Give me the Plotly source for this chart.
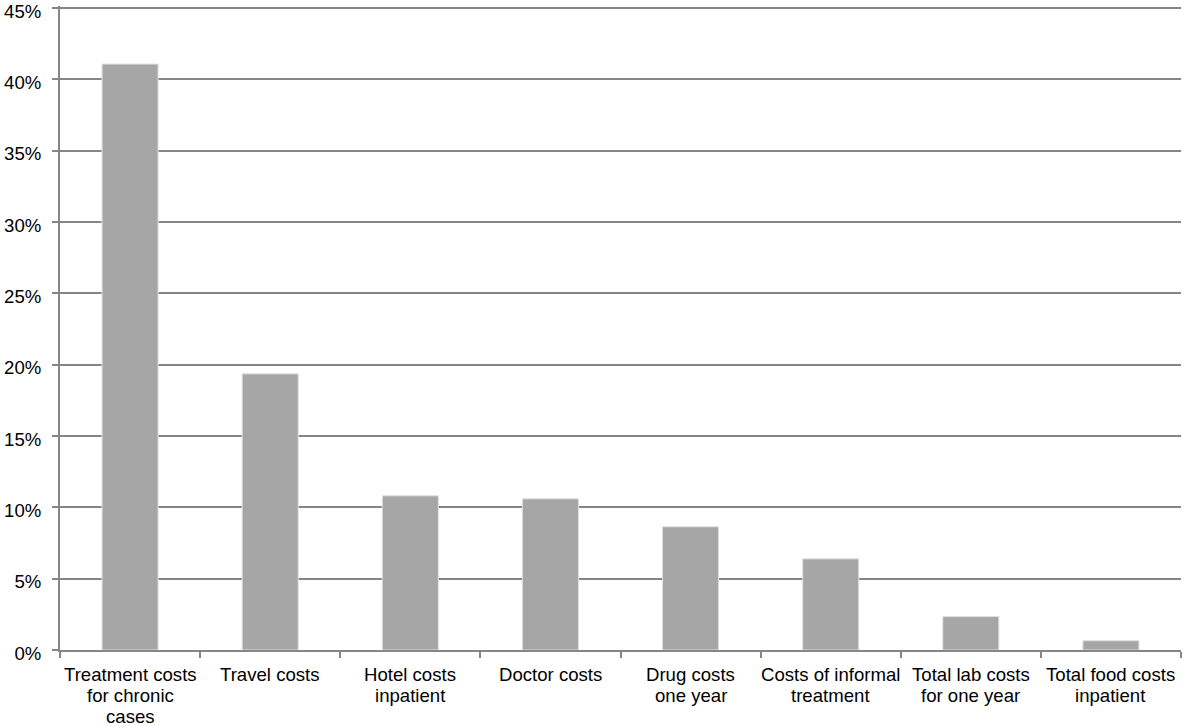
import plotly.graph_objects as go

categories = [
    "Treatment costs<br>for chronic<br>cases",
    "Travel costs",
    "Hotel costs<br>inpatient",
    "Doctor costs",
    "Drug costs<br>one year",
    "Costs of informal<br>treatment",
    "Total lab costs<br>for one year",
    "Total food costs<br>inpatient",
]
values = [41.08, 19.36, 10.81, 10.60, 8.64, 6.39, 2.34, 0.65]
tick_vals = [0, 5, 10, 15, 20, 25, 30, 35, 40, 45]
tick_text = [f"{v}%" for v in tick_vals]

FONT = "Liberation Sans, Arial, sans-serif"
LABEL_SIZE = 18.6

fig = go.Figure(
    go.Bar(
        x=categories,
        y=values,
        marker=dict(color="#A6A6A6", line=dict(color="#E0E0E0", width=1)),
        hoverinfo="y",
    )
)

# Category labels: one annotation per text line, anchored to the category axis
annotations = []
for cat in categories:
    for i, line in enumerate(cat.split("<br>")):
        annotations.append(
            dict(
                x=cat,
                y=0,
                xref="x",
                yref="y",
                text=line,
                showarrow=False,
                xanchor="center",
                yanchor="middle",
                yshift=-(24 + 21 * i),
                font=dict(family=FONT, size=LABEL_SIZE, color="black"),
            )
        )

fig.update_layout(
    width=1186,
    height=726,
    margin=dict(l=60, r=5, t=6, b=76, autoexpand=False),
    paper_bgcolor="white",
    plot_bgcolor="white",
    bargap=0.6,
    showlegend=False,
    font=dict(family=FONT, size=LABEL_SIZE, color="black"),
    annotations=annotations,
)

fig.update_xaxes(
    type="category",
    automargin=False,
    showline=True,
    linecolor="#868686",
    linewidth=2,
    ticks="outside",
    tickson="boundaries",
    ticklen=6,
    tickwidth=2,
    tickcolor="#868686",
    showgrid=False,
    showticklabels=False,
)

fig.update_yaxes(
    range=[0, 45.15],
    automargin=False,
    tickvals=tick_vals,
    ticktext=tick_text,
    ticklabeloverflow="allow",
    ticklabelstandoff=7,
    ticklabelshift=3,
    showline=True,
    linecolor="#868686",
    linewidth=2,
    ticks="outside",
    ticklen=6,
    tickwidth=2,
    tickcolor="#868686",
    showgrid=True,
    gridcolor="#868686",
    gridwidth=2,
    zeroline=False,
)

fig.write_html(
    "out.html",
    config={"displayModeBar": False},
    post_script="document.body.style.margin='0';document.body.style.overflow='hidden';",
)
